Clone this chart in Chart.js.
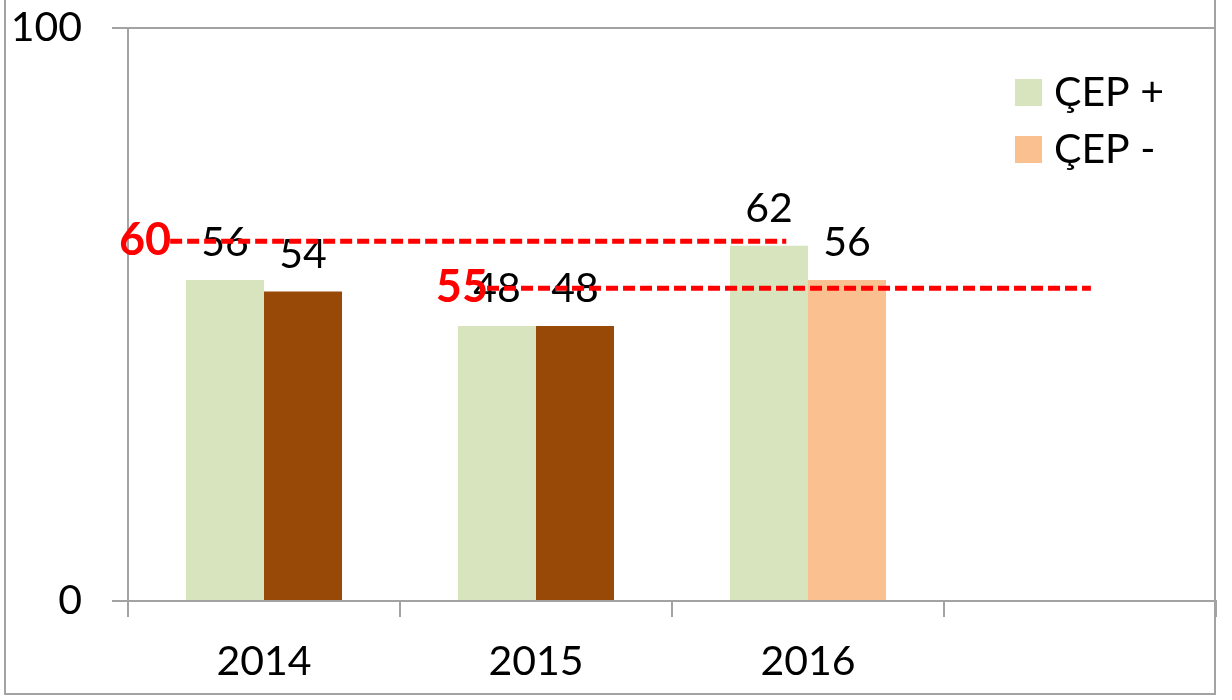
<!DOCTYPE html>
<html>
<head>
<meta charset="utf-8">
<script src="https://cdn.jsdelivr.net/npm/chart.js@4/dist/chart.umd.min.js"></script>
<style>
  html, body { margin: 0; padding: 0; background: #fff; }
  #wrap { width: 1232px; height: 700px; position: relative; }
</style>
</head>
<body>
<div id="wrap"><canvas id="chart" width="1232" height="700"></canvas></div>
<script>
// data
const years = ['2014', '2015', '2016', ''];
const cepPlus = [56, 48, 62, null];
const cepMinus = [54, 48, 56, null];
const seriesNames = ['ÇEP +', 'ÇEP -'];
const cepPlusColors = ['#d7e4bd', '#d7e4bd', '#d7e4bd', '#d7e4bd'];
const cepMinusColors = ['#984807', '#984807', '#fac090', '#fac090'];
const legendColors = ['#d7e4bd', '#fac090'];

// red dashed target lines (level as drawn, label text, span in category units)
const refLabels = ['60', '55'];
const refLevels = [62.8, 54.6];
const refFrom = [-0.345, 0.82];
const refTo = [1.92, 3.04];

const axisGray = '#a3a3a3';
const fontFamily = 'Lato, "Open Sans", sans-serif';

const framePlugin = {
  id: 'frame',
  beforeDraw(chart) {
    const ctx = chart.ctx;
    ctx.save();
    ctx.strokeStyle = axisGray;
    ctx.lineWidth = 2;
    ctx.beginPath();
    ctx.moveTo(5, 0);
    ctx.lineTo(5, 694);
    ctx.lineTo(1215, 694);
    ctx.lineTo(1215, 0);
    ctx.stroke();
    ctx.restore();
  }
};

const extrasPlugin = {
  id: 'extras',
  afterDatasetsDraw(chart) {
    const ctx = chart.ctx;
    const x = chart.scales.x;
    const y = chart.scales.y;
    ctx.save();

    // value labels above bars
    ctx.fillStyle = '#000';
    ctx.font = '41px ' + fontFamily;
    ctx.textAlign = 'center';
    ctx.textBaseline = 'alphabetic';
    chart.data.datasets.forEach((ds, di) => {
      const meta = chart.getDatasetMeta(di);
      meta.data.forEach((bar, i) => {
        if (ds.data[i] == null) return;
        ctx.fillText(String(ds.data[i]), bar.x, bar.y - 24);
      });
    });

    // target lines
    const p0 = x.getPixelForValue(0);
    const w = x.getPixelForValue(1) - p0;
    refLevels.forEach((lvl, i) => {
      const yy = y.getPixelForValue(lvl);
      const x1 = p0 + refFrom[i] * w;
      const x2 = p0 + refTo[i] * w;
      ctx.strokeStyle = '#ff0000';
      ctx.lineWidth = 5;
      ctx.setLineDash([12, 5]);
      ctx.beginPath();
      ctx.moveTo(x1, yy);
      ctx.lineTo(x2, yy);
      ctx.stroke();
      ctx.setLineDash([]);
      ctx.fillStyle = '#ff0000';
      ctx.font = 'bold 45px ' + fontFamily;
      ctx.textAlign = 'right';
      ctx.textBaseline = 'middle';
      ctx.fillText(refLabels[i], x1 + 1, yy - 1);
    });

    // legend in the top right of the plot
    ctx.font = '41px ' + fontFamily;
    ctx.textAlign = 'left';
    ctx.textBaseline = 'middle';
    seriesNames.forEach((name, i) => {
      const top = 79 + i * 57;
      ctx.fillStyle = legendColors[i];
      ctx.fillRect(1015, top, 27, 27);
      ctx.fillStyle = '#000';
      ctx.fillText(name, 1054, top + 14);
    });

    ctx.restore();
  }
};

const ctx = document.getElementById('chart').getContext('2d');
new Chart(ctx, {
  type: 'bar',
  data: {
    labels: years,
    datasets: [
      { label: seriesNames[0], data: cepPlus, backgroundColor: cepPlusColors },
      { label: seriesNames[1], data: cepMinus, backgroundColor: cepMinusColors }
    ]
  },
  options: {
    responsive: false,
    animation: false,
    layout: { padding: { top: 28, right: 16, left: 0, bottom: 0 } },
    datasets: { bar: { categoryPercentage: 0.5735, barPercentage: 1 } },
    plugins: { legend: { display: false }, tooltip: { enabled: false } },
    scales: {
      x: {
        afterFit(scale) { scale.height = 99; scale.paddingLeft = 0; scale.paddingRight = 0; },
        grid: { display: true, drawOnChartArea: false, offset: true, tickLength: 16, color: axisGray, lineWidth: 2 },
        border: { color: axisGray, width: 2 },
        ticks: { color: '#000', font: { family: fontFamily, size: 41 }, padding: 20, maxRotation: 0 }
      },
      y: {
        min: 0,
        max: 100,
        afterFit(scale) { scale.width = 128; scale.paddingTop = 0; scale.paddingBottom = 0; },
        grid: { tickLength: 16, color: axisGray, lineWidth: 2 },
        border: { color: axisGray, width: 2 },
        ticks: { stepSize: 100, color: '#000', font: { family: fontFamily, size: 41 }, padding: 30 }
      }
    }
  },
  plugins: [framePlugin, extrasPlugin]
});
</script>
</body>
</html>
